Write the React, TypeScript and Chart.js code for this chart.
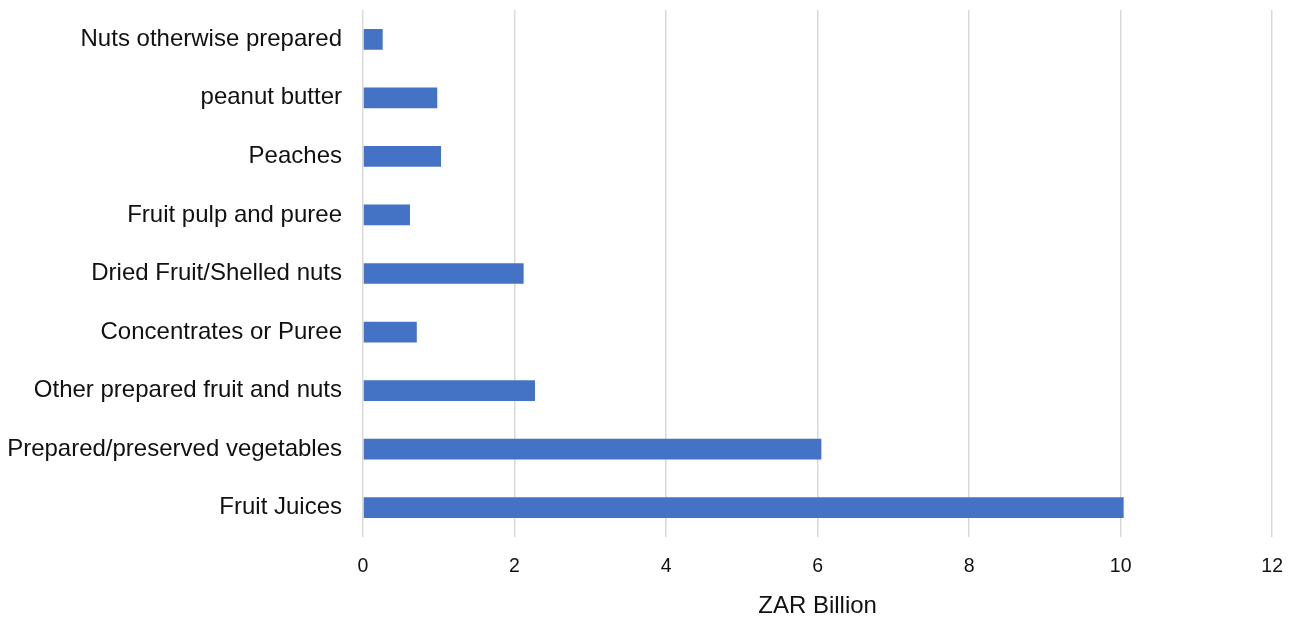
import React, { useEffect, useRef } from "react";
import { Chart, registerables } from "chart.js";

Chart.register(...registerables);

const categories = [
  "Nuts otherwise prepared",
  "peanut butter",
  "Peaches",
  "Fruit pulp and puree",
  "Dried Fruit/Shelled nuts",
  "Concentrates or Puree",
  "Other prepared fruit and nuts",
  "Prepared/preserved vegetables",
  "Fruit Juices",
];

const values = [0.26, 0.98, 1.03, 0.62, 2.12, 0.71, 2.27, 6.05, 10.04];

const axisTitle = "ZAR Billion";
const xMin = 0;
const xMax = 12;
const xStep = 2;

export default function App() {
  const ref = useRef<HTMLCanvasElement | null>(null);

  useEffect(() => {
    if (!ref.current) return;
    const chart = new Chart(ref.current, {
      type: "bar",
      data: {
        labels: categories,
        datasets: [
          {
            data: values,
            backgroundColor: "#4472C4",
            borderWidth: 0,
            categoryPercentage: 1,
            barPercentage: 0.354,
          },
        ],
      },
      options: {
        indexAxis: "y",
        animation: false,
        responsive: false,
        maintainAspectRatio: false,
        layout: { padding: { top: 10, right: 26, bottom: 0, left: 0 } },
        plugins: {
          legend: { display: false },
          tooltip: { enabled: false },
        },
        scales: {
          x: {
            min: xMin,
            max: xMax,
            ticks: {
              stepSize: xStep,
              padding: 18,
              color: "#111",
              font: { family: "'Liberation Sans', Arial, sans-serif", size: 19.5 },
            },
            grid: { color: "#d9d9d9", lineWidth: 1.5, drawTicks: false },
            border: { display: false },
            title: {
              display: true,
              text: axisTitle,
              color: "#111",
              padding: { top: 0, bottom: 0 },
              font: { family: "'Liberation Sans', Arial, sans-serif", size: 24, lineHeight: 1.05 },
            },
            afterFit: (scale: any) => {
              scale.height = 82;
            },
          },
          y: {
            ticks: {
              padding: 21,
              color: "#111",
              font: { family: "'Liberation Sans', Arial, sans-serif", size: 24 },
            },
            grid: { display: false, drawTicks: false },
            border: { display: false },
            afterFit: (scale: any) => {
              scale.width = 363;
              scale.paddingTop = 0;
              scale.paddingBottom = 0;
            },
          },
        },
      },
    });
    return () => chart.destroy();
  }, []);

  return (
    <div style={{ position: "fixed", left: 0, top: 0, width: 1301, height: 619, background: "#fff" }}>
      <canvas ref={ref} width={1301} height={619} style={{ width: 1301, height: 619, display: "block" }} />
    </div>
  );
}
